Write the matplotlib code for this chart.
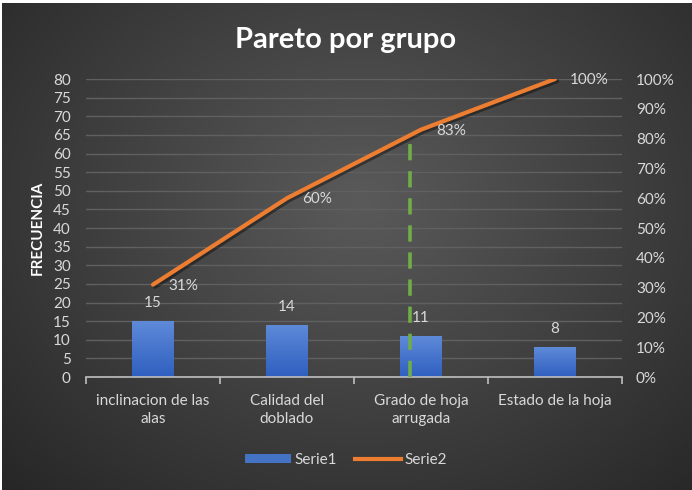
import numpy as np
import matplotlib
matplotlib.use("Agg")
import matplotlib.pyplot as plt
from matplotlib.patches import Patch
from matplotlib.lines import Line2D
from matplotlib.ticker import PercentFormatter, FixedLocator
from matplotlib.colors import LinearSegmentedColormap
import matplotlib.patheffects as pe

plt.rcParams['font.family'] = ['Lato', 'DejaVu Sans']

# data
categorias = ["inclinacion de las\nalas", "Calidad del\ndoblado", "Grado de hoja\narrugada", "Estado de la hoja"]
frecuencia = [15, 14, 11, 8]
acumulado = [0.31, 0.60, 0.83, 1.00]
etiquetas_pct = ["31%", "60%", "83%", "100%"]
# corte 80/20 (linea verde)
corte_x = 1.92
corte_y = 0.81

txt = "#d9d9d9"

fig = plt.figure(figsize=(6.92, 4.90), dpi=100, facecolor="white")

# fondo con degradado radial
bg = fig.add_axes([0.003, 0, 0.997, 0.994], zorder=-10)
yy, xx = np.mgrid[0:490, 0:692]
r = np.sqrt(((xx - 360) / 520.0) ** 2 + ((yy - 200) / 420.0) ** 2)
r = np.clip(r, 0, 1)
val = (0x5a - (0x5a - 0x25) * r) / 255.0
bg.imshow(np.dstack([val, val, val]), aspect="auto", extent=[0, 1, 0, 1])
bg.axis("off")

ax = fig.add_axes([86 / 692, 113 / 490, 536 / 692, 298 / 490])
ax.patch.set_visible(False)
x = np.arange(len(categorias))

bars = ax.bar(x, frecuencia, width=0.31, color="#4472C4", zorder=2)
grad = np.linspace(0, 1, 100).reshape(-1, 1)
cm = LinearSegmentedColormap.from_list("b", ["#2f5fc0", "#5e8ad8"])
for b in bars:
    x0, y0 = b.get_x(), b.get_y()
    im = ax.imshow(grad, cmap=cm, origin="lower", aspect="auto",
                   extent=[x0, x0 + b.get_width(), y0, y0 + b.get_height()], zorder=2)
    im.set_clip_path(b)

for xi, v in zip(x, frecuencia):
    ax.annotate(str(v), (xi, v), xytext=(0, 18), textcoords="offset pixels",
                ha="center", va="center", color=txt, fontsize=11)

ax.set_xlim(-0.5, len(categorias) - 0.5)
ax.set_ylim(0, 80)
ax.set_yticks(np.arange(0, 81, 5))
ax.grid(axis="y", color="#606060", linewidth=1, zorder=0)
ax.set_axisbelow(True)
for s in ["top", "right", "left"]:
    ax.spines[s].set_visible(False)
ax.spines["bottom"].set_color("#bfbfbf")
ax.spines["bottom"].set_linewidth(1.2)
ax.tick_params(axis="y", length=0, colors=txt, labelsize=11, pad=11)
ax.xaxis.set_major_locator(FixedLocator(np.arange(-0.5, len(categorias), 1.0)))
ax.set_xticklabels([])
ax.xaxis.set_minor_locator(FixedLocator(x))
ax.set_xticklabels(categorias, minor=True, linespacing=1.35)
ax.tick_params(axis="x", which="major", length=5, color="#bfbfbf", width=1.2)
ax.tick_params(axis="x", which="minor", length=0, colors=txt, labelsize=11, pad=12)
ax.set_ylabel("FRECUENCIA", color="white", fontsize=11, fontweight="bold", labelpad=6)

ax2 = ax.twinx()
ax2.patch.set_visible(False)
ax2.set_ylim(0, 1)
ax2.set_yticks(np.arange(0, 1.01, 0.1))
ax2.yaxis.set_major_formatter(PercentFormatter(1.0, decimals=0))
ax2.tick_params(axis="y", length=0, colors=txt, labelsize=11, pad=10)
for s in ax2.spines.values():
    s.set_visible(False)

ax2.plot(x, acumulado, color="#ED7D31", linewidth=3, solid_capstyle="round", zorder=3,
         path_effects=[pe.SimpleLineShadow(offset=(1.5, -1.5), alpha=0.4), pe.Normal()])
for xi, v, t in zip(x, acumulado, etiquetas_pct):
    ax2.annotate(t, (xi, v), xytext=(15, -1), textcoords="offset pixels",
                 ha="left", va="center", color=txt, fontsize=11)

ax2.plot([corte_x, corte_x], [0, corte_y], color="#70AD47", linewidth=2.6,
         linestyle=(0, (4.5, 3)), zorder=4)

fig.text(0.5, 0.918, "Pareto por grupo", ha="center", va="center", color="white",
         fontsize=21, fontweight="bold")

handles = [Patch(facecolor="#4472C4", label="Serie1"),
           Line2D([0], [0], color="#ED7D31", linewidth=3, label="Serie2")]
fig.legend(handles=handles, loc="center", bbox_to_anchor=(0.5, 0.061), ncol=2,
           frameon=False, fontsize=11, labelcolor=txt, handlelength=3.0,
           handleheight=0.5, handletextpad=0.2, columnspacing=1.2)

fig.savefig("out.png", dpi=100, facecolor=fig.get_facecolor())
